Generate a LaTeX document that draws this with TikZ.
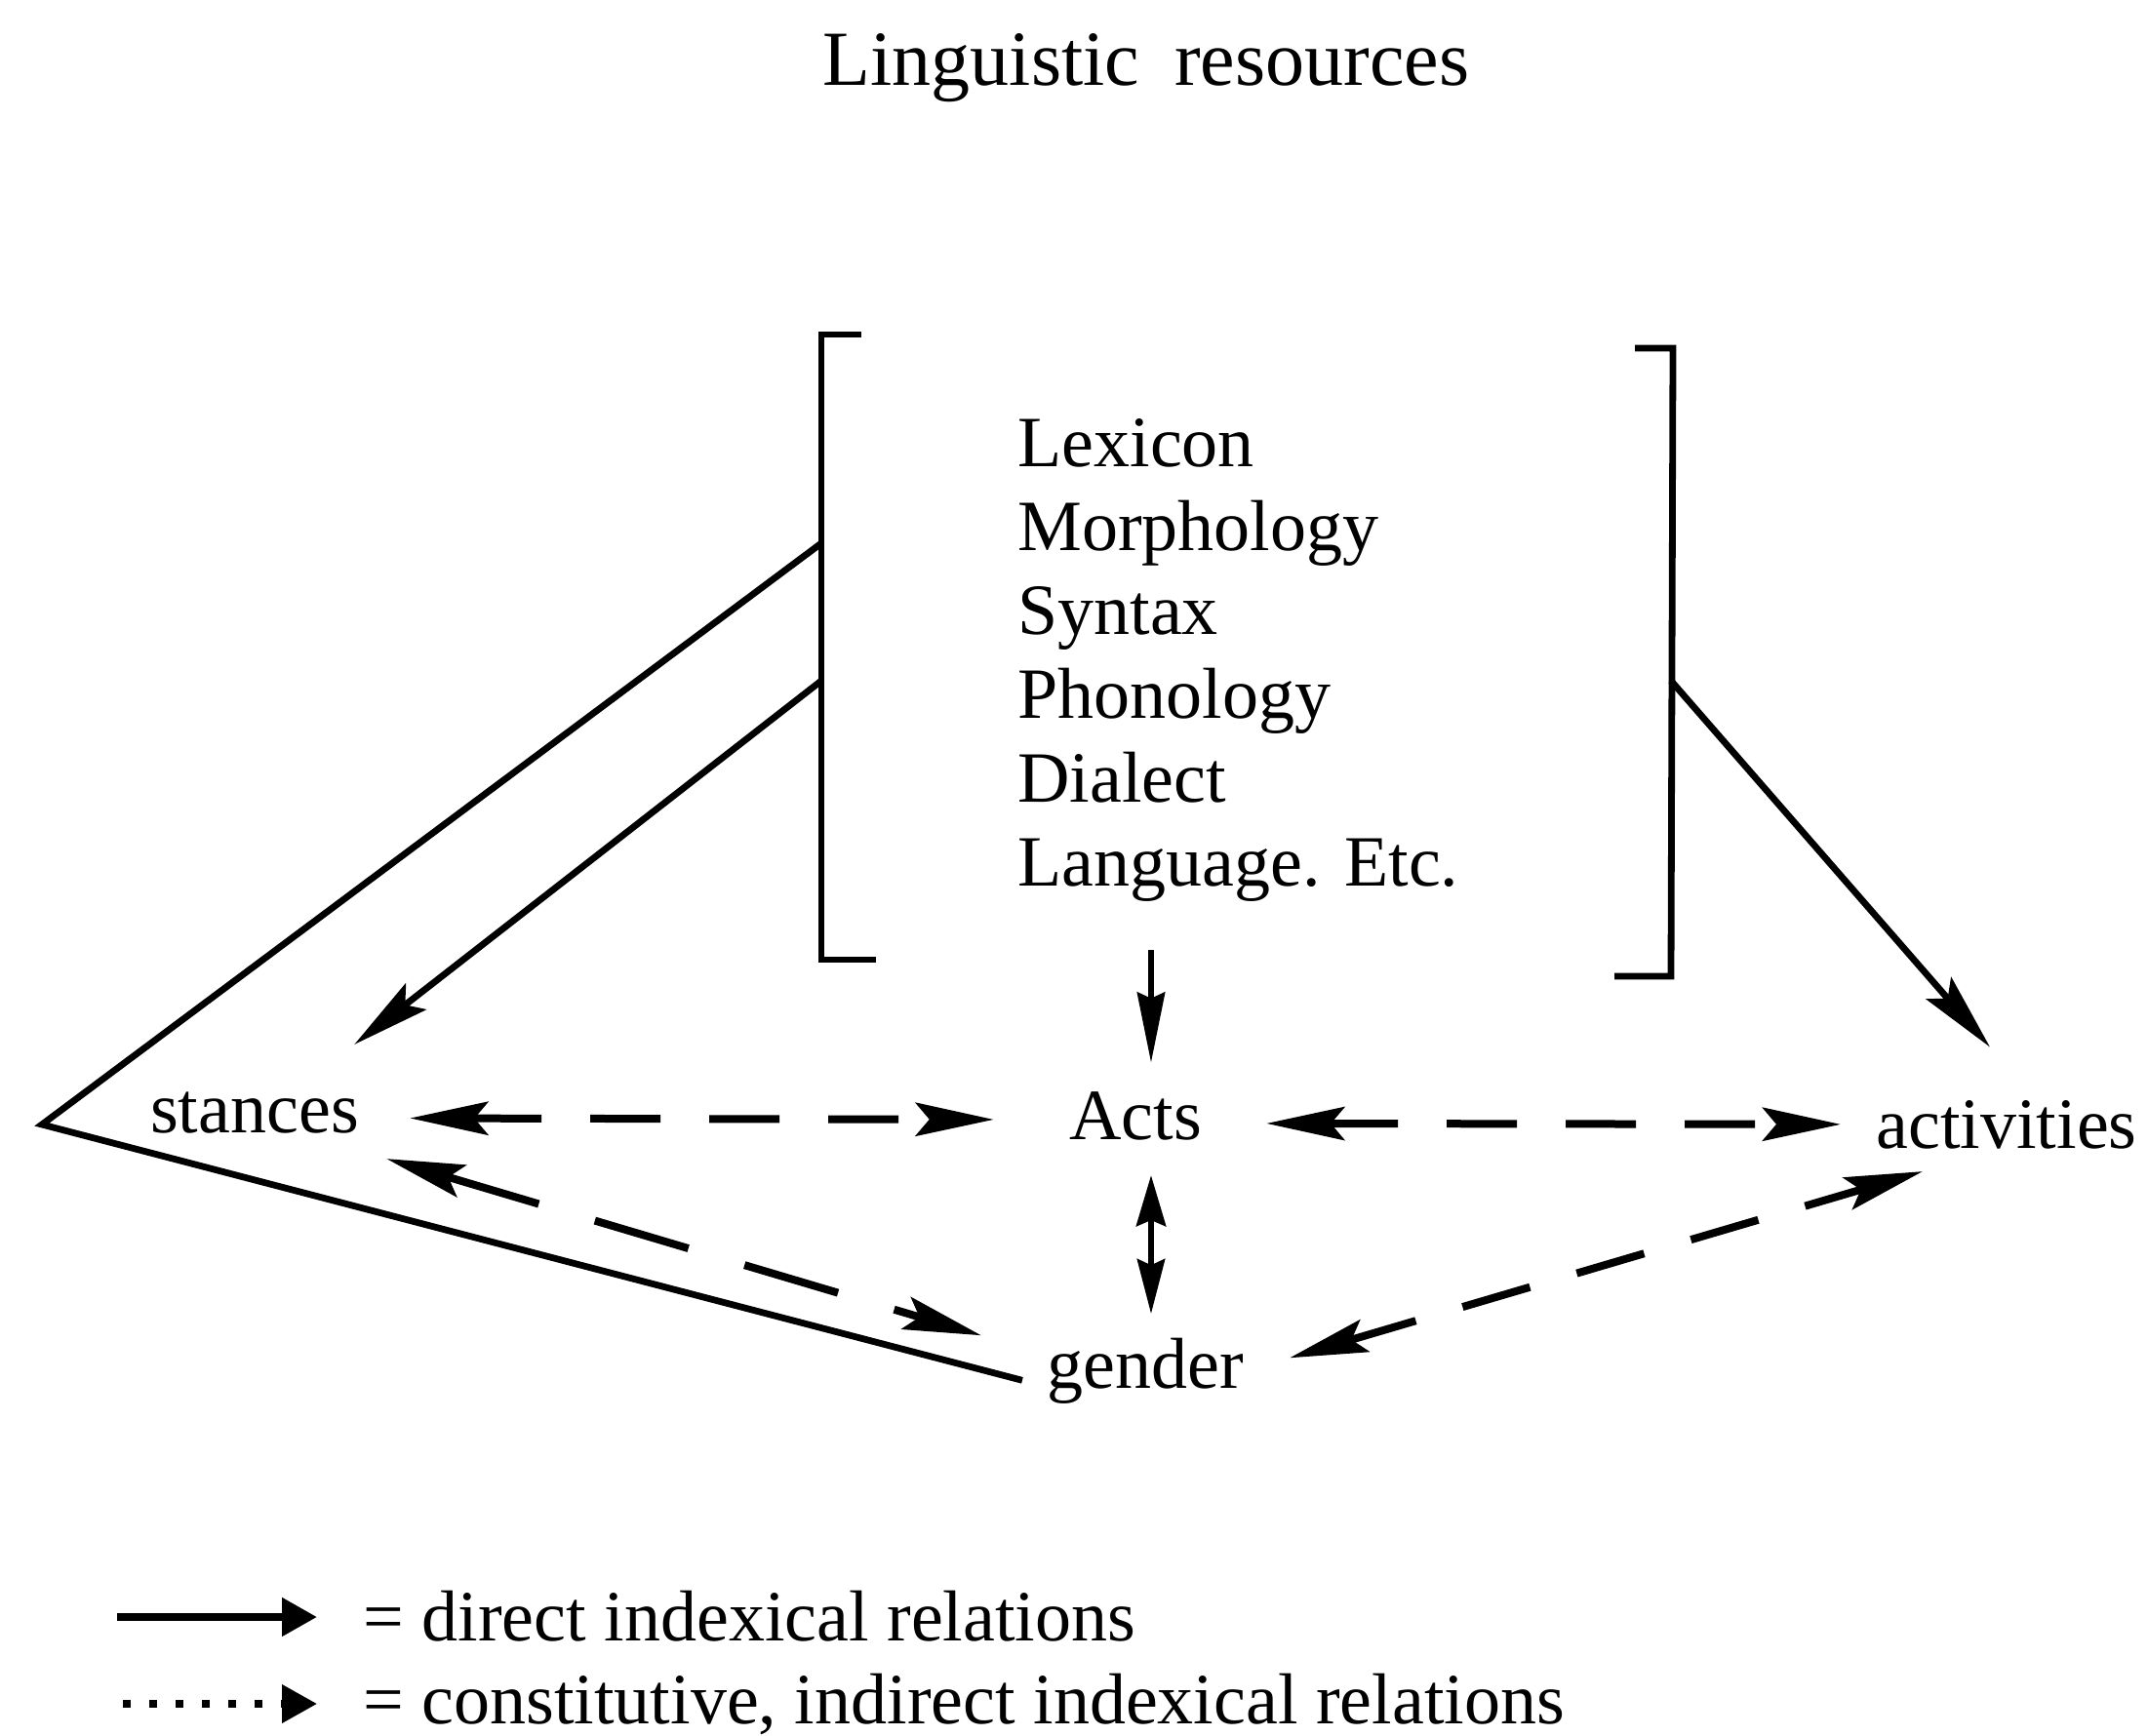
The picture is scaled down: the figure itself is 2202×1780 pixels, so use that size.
\documentclass[tikz,border=0pt]{standalone}
\usepackage{fontspec}
\setmainfont{Liberation Serif}
\usetikzlibrary{arrows.meta,calc}
\begin{document}
\begin{tikzpicture}[x=0.5pt,y=-0.5pt,
  lbl/.style={inner sep=0pt, font=\fontsize{37}{43}\selectfont},
  solidln/.style={line width=3.4pt},
  dashln/.style={line width=4pt, dash pattern=on 36pt off 25pt},
  longdash/.style={line width=4pt, dash pattern=on 50pt off 30pt},
  hd/.style={-{Stealth[length=40pt,width=17pt,inset=7pt]}},
  hdboth/.style={{Stealth[length=40pt,width=17pt,inset=7pt]}-{Stealth[length=40pt,width=17pt,inset=7pt]}},
  vhd/.style={-{Stealth[length=36pt,width=14pt,inset=3pt]}},
  vhdboth/.style={{Stealth[length=26pt,width=15pt,inset=3pt]}-{Stealth[length=28pt,width=14pt,inset=3pt]}},
  leghd/.style={-{Triangle[length=18pt,width=19pt]}},
  legsolid/.style={line width=4pt},
  legdot/.style={line width=3.6pt, dash pattern=on 4pt off 9.5pt}
]
\useasboundingbox (0,0) rectangle (2202,1780);

% texts
\node[lbl, font=\fontsize{40}{46}\selectfont, anchor=base] (title) at (1175,88) {Linguistic\hspace{0.45em}resources};
\node[lbl, anchor=west, align=left] (res) at (1043,677) {Lexicon\\Morphology\\Syntax\\Phonology\\Dialect\\Language. Etc.};
\node[lbl, anchor=base] (stances) at (261,1161) {stances};
\node[lbl, anchor=base] (acts) at (1164,1168) {Acts};
\node[lbl, anchor=base] (activities) at (2057,1177) {activities};
\node[lbl, anchor=base] (gender) at (1174,1423) {gender};

% brackets
\draw[solidln] (883,343) -- (842,343) -- (842,984) -- (898,984);
\draw[solidln] (1676,357) -- (1715,357) -- (1713,1001) -- (1655,1001);

\coordinate (bl1) at (842,557);
\coordinate (bl2) at (842,698);
\coordinate (br) at (1713,698);
\coordinate (apex) at (43,1153);
\coordinate (bb) at (1180,974);

% direct relations
\draw[solidln, line join=miter] (bl1) -- (apex) -- ($(gender.west)+(-25,10)$);
\draw[solidln, hd] (bl2) -- ($(stances.north east)+(-5,-48)$);
\draw[solidln, hd] (br) -- ($(activities.north)+(-17,-54)$);
\draw[solidln, vhd] (bb) -- ($(acts.north)+(16,-29)$);
\draw[solidln, vhdboth] ($(acts.base)+(16,37)$) -- ($(gender.north)+(6,-24)$);

% constitutive relations
\draw[dashln, hdboth] ($(stances.east)+(52,6)$) -- ($(acts.west)+(-77,4)$);
\draw[dashln, hdboth] ($(acts.east)+(66,8)$) -- ($(activities.west)+(-36,0)$);
\draw[longdash, hdboth] ($(stances.south east)+(28,26)$) -- ($(gender.north west)+(-67,-2)$);
\draw[dashln, hdboth] ($(gender.east)+(47,-13)$) -- ($(activities.south)+(-86,23)$);

% legend
\node[lbl, anchor=base west] (leg1) at (372,1682) {= direct indexical relations};
\node[lbl, anchor=base west] (leg2) at (372,1767) {= constitutive, indirect indexical relations};
\coordinate (l1s) at (120,1658);
\coordinate (l2s) at (126,1747);
\draw[legsolid, leghd] (l1s) -- ($(leg1.base west)+(-47,-24)$);
\draw[legdot, leghd] (l2s) -- ($(leg2.base west)+(-47,-20)$);
\end{tikzpicture}
\end{document}
